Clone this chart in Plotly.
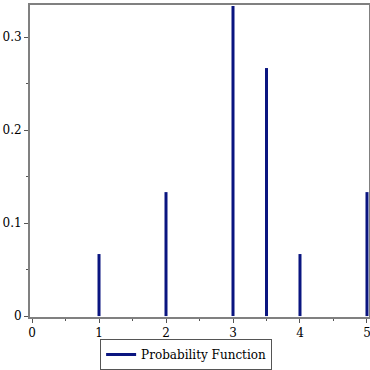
import plotly.graph_objects as go

x_vals = [1, 2, 3, 3.5, 4, 5]
probs = [0.0667, 0.1333, 0.3333, 0.2667, 0.0667, 0.1333]
x_ticks = [0, 1, 2, 3, 4, 5]
y_ticks = [0, 0.1, 0.2, 0.3]
y_tick_labels = ["0", "0.1", "0.2", "0.3"]

xs, ys = [], []
for xv, p in zip(x_vals, probs):
    xs += [xv, xv, None]
    ys += [0, p, None]

fig = go.Figure()
fig.add_trace(go.Scatter(x=xs, y=ys, mode="lines", name="Probability Function",
                         line=dict(color="#0a1580", width=3), showlegend=True,
                         cliponaxis=False))

serif = "DejaVu Serif, serif"
axis_common = dict(showline=True, linecolor="#808080", linewidth=2, mirror=True,
                   ticks="outside", tickcolor="#555555", ticklen=4, tickwidth=1,
                   showgrid=False, zeroline=False, automargin=False,
                   ticklabeloverflow="allow",
                   tickfont=dict(family=serif, size=12, color="black"))

fig.update_xaxes(range=[-0.03, 5.03], tickvals=x_ticks, ticktext=[str(t) for t in x_ticks],
                 minor=dict(dtick=0.5, tick0=0, ticks="outside", ticklen=2, tickcolor="#555555"),
                 **axis_common)
fig.update_yaxes(range=[-0.001, 0.3345], tickvals=y_ticks, ticktext=y_tick_labels,
                 minor=dict(dtick=0.05, tick0=0, ticks="outside", ticklen=2, tickcolor="#555555"),
                 **axis_common)

fig.update_layout(
    width=370, height=370,
    margin=dict(l=30, r=1, t=5, b=53),
    plot_bgcolor="white", paper_bgcolor="white",
    showlegend=True,
    font=dict(family=serif, size=12, color="black"),
    legend=dict(orientation="h", xref="container", x=0.503, xanchor="center",
                yref="container", y=-0.01, yanchor="bottom",
                bordercolor="#555555", borderwidth=1,
                font=dict(family=serif, size=12, color="black"),
                itemwidth=30, tracegroupgap=0),
)

fig.write_html("out.html", config={"displayModeBar": False},
               post_script="document.body.style.margin='0';document.body.style.padding='0';")
